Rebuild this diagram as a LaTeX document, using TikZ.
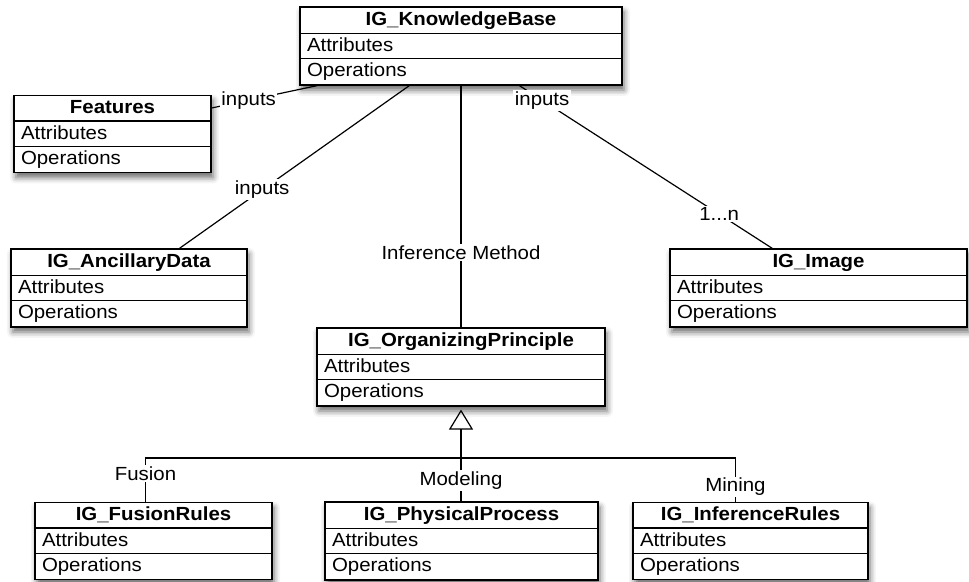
\documentclass[tikz,border=0pt]{standalone}
\usepackage{fontspec}
\setmainfont{Liberation Sans}[FakeStretch=1.075]
\usetikzlibrary{shapes.multipart,arrows.meta,shadows.blur}

% one row of a class box: fixed width, fixed height and depth
\newcommand{\classrow}[3]{\makebox[#1][#2]{\vrule height 14pt depth 3pt width 0pt#3}}
% a three-compartment UML class: name, attributes, operations
\newcommand{\umlcontent}[2]{\classrow{#1}{c}{\bfseries #2}\nodepart{two}\classrow{#1}{l}{\hspace{4pt}Attributes}\nodepart{three}\classrow{#1}{l}{\hspace{4pt}Operations}}

\begin{document}
\begin{tikzpicture}[x=1pt,y=-1pt,
  font=\fontsize{19}{22}\selectfont,
  umlclass/.style={rectangle split, rectangle split parts=3, draw, line width=1.3pt,
    fill=white, inner xsep=3pt, inner ysep=3.5pt,
    blur shadow={shadow xshift=2pt, shadow yshift=-5pt, shadow blur radius=6pt, shadow opacity=60}},
  link/.style={line width=1.2pt},
  lbl/.style={fill=white, inner sep=1.5pt}]

\useasboundingbox (0,0) rectangle (969,581);

% classes
\node[umlclass] (kb)   at (461,46)    {\umlcontent{316pt}{IG\_KnowledgeBase}};
\node[umlclass] (feat) at (112.5,134) {\umlcontent{191pt}{Features}};
\node[umlclass] (anc)  at (129,288)   {\umlcontent{230pt}{IG\_AncillaryData}};
\node[umlclass] (img)  at (818.5,288) {\umlcontent{291pt}{IG\_Image}};
\node[umlclass] (op)   at (461,367)   {\umlcontent{282pt}{IG\_OrganizingPrinciple}};
\node[umlclass] (fus)  at (153.5,541) {\umlcontent{231pt}{IG\_FusionRules}};
\node[umlclass] (phys) at (461.5,541) {\umlcontent{267pt}{IG\_PhysicalProcess}};
\node[umlclass] (inf)  at (750.5,541) {\umlcontent{229pt}{IG\_InferenceRules}};

% associations from the knowledge base
\draw[link] ([xshift=18pt]kb.south west) -- node[lbl,pos=0.65]{inputs} ([yshift=26pt]feat.east);
\draw[link] ([xshift=110pt]kb.south west) -- node[lbl,pos=0.64]{inputs} ([xshift=169pt]anc.north west);
\draw[link] (kb.south) -- node[lbl,pos=0.69]{Inference Method} (op.north);
\draw[link] ([xshift=220pt]kb.south west) -- node[lbl,pos=0.09]{inputs}
  node[lbl,pos=0.79]{1...n} ([xshift=103pt]img.north west);

% generalization tree
\coordinate (bus) at (461,458);
\draw[link, -{Triangle[open,length=20pt,width=24pt,line width=1.2pt]}, shorten >=3pt] (bus) -- (op.south);
\draw[link] ([xshift=-8pt]fus.north) |- node[lbl,pos=0.32]{Fusion} (bus);
\draw[link] (bus) -| node[lbl,pos=0.83]{Mining} ([xshift=-15pt]inf.north);
\draw[link] (bus) -- node[lbl,pos=0.52]{Modeling} (bus |- phys.north);
\end{tikzpicture}
\end{document}
